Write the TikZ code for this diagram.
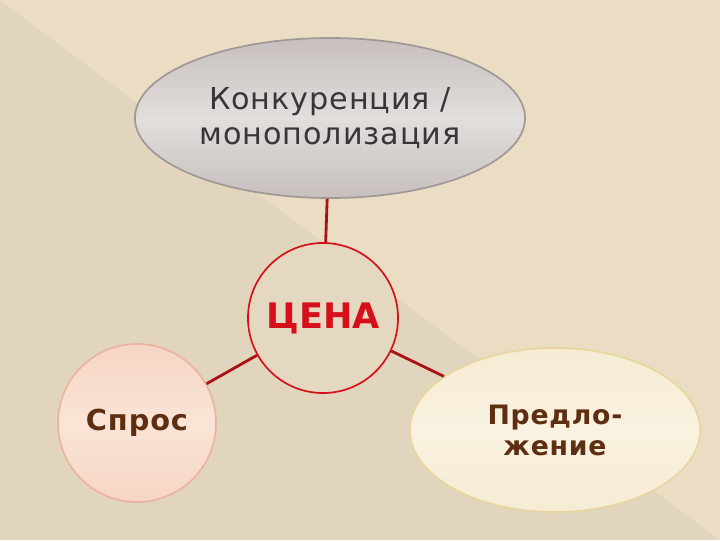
\documentclass[tikz,border=0pt]{standalone}
\usepackage{fontspec}
\setmainfont{DejaVu Sans}
\newfontfamily\gothic[LetterSpace=3]{DejaVu Sans}
\usepackage{tikz}
\usetikzlibrary{shapes,arrows,positioning}
\definecolor{bgdark}{RGB}{225,213,189}
\definecolor{bglight}{RGB}{234,221,196}
\definecolor{greyedge}{RGB}{160,152,150}
\definecolor{greytop}{RGB}{198,191,189}
\definecolor{greymid}{RGB}{226,222,220}
\definecolor{greytext}{RGB}{58,53,53}
\definecolor{pricered}{RGB}{214,16,26}
\definecolor{linkred}{RGB}{170,16,24}
\definecolor{peachedge}{RGB}{236,180,160}
\definecolor{peachtop}{RGB}{246,214,196}
\definecolor{peachmid}{RGB}{250,228,214}
\definecolor{creamedge}{RGB}{232,214,160}
\definecolor{creamtop}{RGB}{246,236,212}
\definecolor{creammid}{RGB}{249,242,224}
\definecolor{browntext}{RGB}{94,46,18}

\tikzset{
    bubble/.style={inner sep=0pt, align=center, line width=1.2pt},
    link/.style={draw=linkred, line width=2pt}
}

\begin{document}
\begin{tikzpicture}[x=0.025cm, y=-0.025cm]
    % Background
    \fill[bgdark] (0,0) rectangle (720,540);
    \fill[bglight] (0,0) -- (720,0) -- (720,540) -- cycle;

    % Competition
    \node[bubble, ellipse, draw=greyedge, top color=greytop, bottom color=greytop, middle color=greymid, minimum width=9.75cm, minimum height=4cm, text=greytext, font={\gothic\fontsize{21.5}{25}\selectfont}] (compet) at (330,118) {Конкуренция /\\ монополизация};

    % Price
    \node[bubble, circle, draw=pricered, fill=bgdark!60!bglight, minimum size=3.75cm, text=pricered, font={\fontsize{25}{30}\selectfont\bfseries}] (price) at (323,318) {ЦЕНА};

    % Demand
    \node[bubble, circle, draw=peachedge, top color=peachtop, bottom color=peachtop, middle color=peachmid, minimum size=3.95cm, text=browntext, font={\gothic\fontsize{20.5}{24}\selectfont\bfseries}] (demand) at (137,423) {Спрос};

    % Supply
    \node[bubble, ellipse, draw=creamedge, top color=creamtop, bottom color=creamtop, middle color=creammid, minimum width=7.25cm, minimum height=4.1cm, text=browntext, font={\gothic\fontsize{19}{22}\selectfont\bfseries}] (supply) at (555,430) {Предло-\\ жение};

    % Links
    \draw[link] (compet) -- (price);
    \draw[link] (price) -- (demand);
    \draw[link] (price) -- (supply);
\end{tikzpicture}
\end{document}
